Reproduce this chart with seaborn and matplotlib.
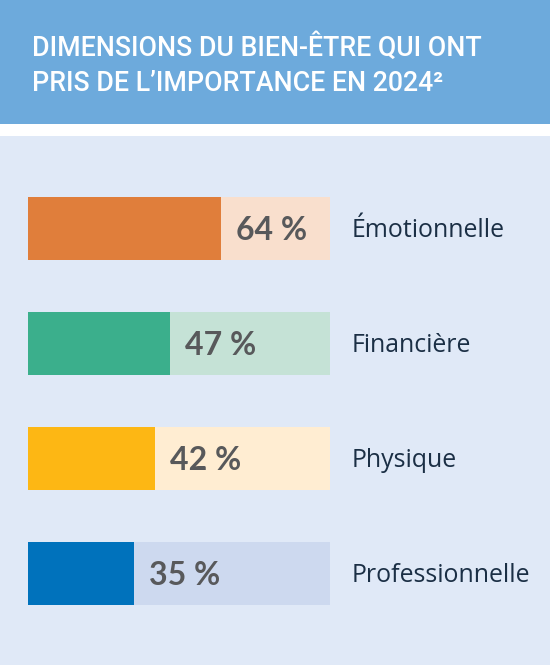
import matplotlib
matplotlib.use("Agg")
import matplotlib.pyplot as plt
import seaborn as sns
import pandas as pd
from matplotlib.patches import Rectangle

categories = ["Émotionnelle", "Financière", "Physique", "Professionnelle"]
values = [64, 47, 42, 35]
value_labels = ["64 %", "47 %", "42 %", "35 %"]
dark_colors = ["#E07E3B", "#3BAF8C", "#FDB714", "#0072BC"]
light_colors = ["#F9DFCD", "#C5E2D6", "#FFEDD2", "#CDD9EF"]
title_lines = ["DIMENSIONS DU BIEN-ÊTRE QUI ONT", "PRIS DE L’IMPORTANCE EN 2024²"]

sns.set_theme(style="white")
W, H = 550, 665
fig = plt.figure(figsize=(W / 100, H / 100), dpi=100)
fig.patch.set_facecolor("#E0E9F7")

# header band and white strip
fig.patches.append(Rectangle((0, (H - 124) / H), 1, 124 / H, transform=fig.transFigure,
                             facecolor="#6DAADC", edgecolor="none", zorder=0))
fig.patches.append(Rectangle((0, (H - 136) / H), 1, 12 / H, transform=fig.transFigure,
                             facecolor="white", edgecolor="none", zorder=0))

fig.text(32 / W, 1 - 56 / H, title_lines[0], color="white", fontsize=19.3,
         family="Roboto", fontweight="medium", va="baseline", ha="left")
fig.text(32 / W, 1 - 91 / H, title_lines[1], color="white", fontsize=19.3,
         family="Roboto", fontweight="medium", va="baseline", ha="left")

df = pd.DataFrame({"cat": categories, "value": values, "track": [100] * len(values)})

ax = fig.add_axes([28 / W, (H - 631) / H, 302 / W, 460 / H])
ax.set_facecolor("none")
bh = 63 / 115
sns.barplot(data=df, y="cat", x="track", hue="cat", palette=light_colors, orient="h",
            width=bh, ax=ax, legend=False, saturation=1, linewidth=0)
sns.barplot(data=df, y="cat", x="value", hue="cat", palette=dark_colors, orient="h",
            width=bh, ax=ax, legend=False, saturation=1, linewidth=0)
ax.set_xlim(0, 100)
ax.set_ylim(3.5, -0.5)
ax.axis("off")

for i, (v, lab, cat) in enumerate(zip(values, value_labels, categories)):
    ax.text(v + 5, i + 0.02, lab, va="center", ha="left", fontsize=23, fontweight="bold",
            family="Lato", color="#58595B")
    ax.text(107.3, i + 0.02, cat, va="center", ha="left", fontsize=17.9,
            family="Open Sans", color="#1B2F45")

fig.savefig("out.png", dpi=100, facecolor=fig.get_facecolor())
